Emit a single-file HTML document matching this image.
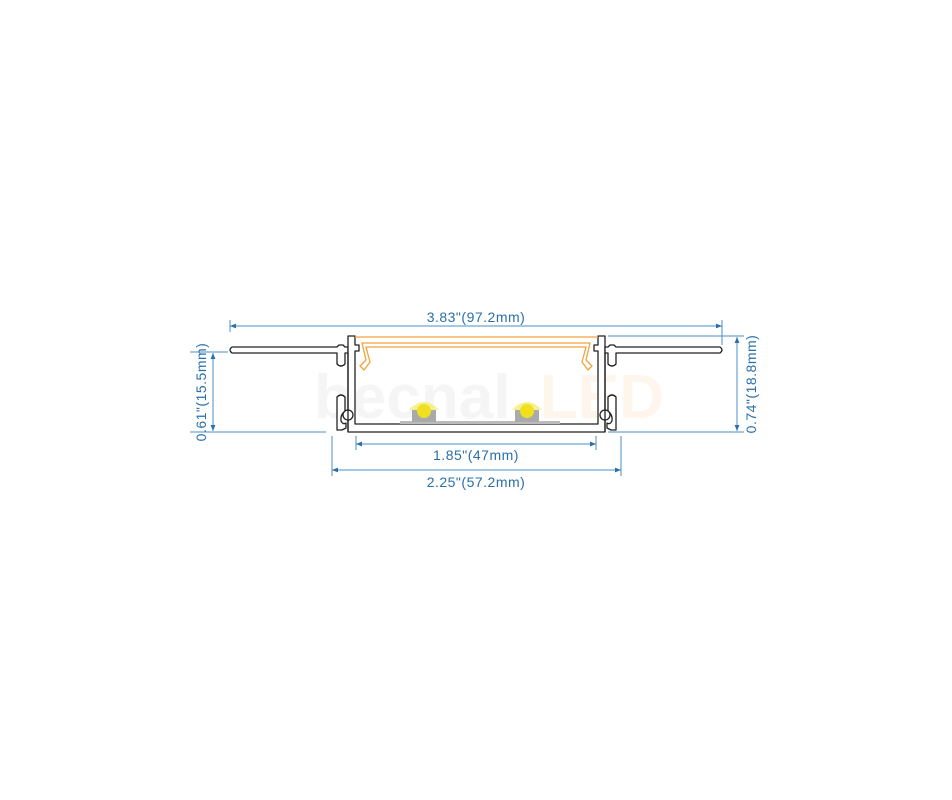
<!DOCTYPE html>
<html><head><meta charset="utf-8"><style>
html,body{margin:0;padding:0;background:#fff;width:952px;height:800px;overflow:hidden}
svg{display:block}
text{font-family:"Liberation Sans",sans-serif;font-size:14px;fill:#2a6fa8;letter-spacing:0.5px}
</style></head><body>
<svg width="952" height="800" viewBox="0 0 952 800">
<defs>
<marker id="a" viewBox="0 0 10 10" refX="10" refY="5" markerWidth="6" markerHeight="6" orient="auto-start-reverse"><path d="M0,1L10,5L0,9z" fill="#2a6fa8"/></marker>
</defs>
<text x="314" y="418" style="font-size:62px;font-weight:bold;fill:#f5f5f5;letter-spacing:0">becnal</text>
<text x="540" y="418" style="font-size:62px;font-weight:bold;fill:#fef6ec;letter-spacing:0">LED</text>
<g stroke="#4a90c8" stroke-width="1" fill="none">
<line x1="230" y1="320" x2="230" y2="332"/><line x1="722" y1="320" x2="722" y2="345"/>
<line x1="230" y1="326" x2="722" y2="326" marker-start="url(#a)" marker-end="url(#a)"/>
<line x1="190" y1="352" x2="228" y2="352"/><line x1="190" y1="432" x2="326" y2="432"/>
<line x1="213" y1="353" x2="213" y2="431" marker-start="url(#a)" marker-end="url(#a)"/>
<line x1="608" y1="336" x2="744" y2="336"/><line x1="608" y1="432" x2="744" y2="432"/>
<line x1="737" y1="337" x2="737" y2="431" marker-start="url(#a)" marker-end="url(#a)"/>
<line x1="356" y1="436" x2="356" y2="450"/><line x1="596" y1="436" x2="596" y2="450"/>
<line x1="356" y1="444" x2="596" y2="444" marker-start="url(#a)" marker-end="url(#a)"/>
<line x1="332" y1="436" x2="332" y2="476"/><line x1="621" y1="436" x2="621" y2="476"/>
<line x1="332" y1="470" x2="621" y2="470" marker-start="url(#a)" marker-end="url(#a)"/>
</g>
<text x="476" y="322" text-anchor="middle">3.83"(97.2mm)</text>
<text x="476" y="460" text-anchor="middle">1.85"(47mm)</text>
<text x="476" y="487" text-anchor="middle">2.25"(57.2mm)</text>
<text transform="translate(206,392) rotate(-90)" text-anchor="middle">0.61"(15.5mm)</text>
<text transform="translate(756,384) rotate(-90)" text-anchor="middle">0.74"(18.8mm)</text>
<g stroke="#222" stroke-width="1.3" fill="#fff" stroke-linejoin="round">
<!-- left -->
<path d="M232,347 L337,347 L339,345 L343,345 L345,347 L348,347 L348,353 L345,353 L345,364 Q341,368 337,364 L337,353 L232,353 Q228,350 232,347 Z"/>
<path d="M348,336 L355,336 L355,345 L359,345 L359,351 L355,351 L355,424 L598,424 L598,351 L594,351 L594,345 L598,345 L598,336 L605,336 L605,432 L348,432 Z"/>
<path d="M337,397 Q341,393 345,397 L345,411 Q340,415 341,421 Q343,425 346,423 L346,428 L342,430 L337,430 Z"/>
<circle cx="348" cy="415" r="5"/>
<!-- right -->
<path d="M720,347 L616,347 L614,345 L610,345 L608,347 L605,347 L605,353 L608,353 L608,364 Q612,368 616,364 L616,353 L720,353 Q724,350 720,347 Z"/>
<path d="M616,397 Q612,393 608,397 L608,411 Q613,415 612,421 Q610,425 607,423 L607,428 L611,430 L616,430 Z"/>
<circle cx="605" cy="415" r="5"/>
<line x1="348" y1="353" x2="348" y2="432" fill="none"/>
<line x1="605" y1="353" x2="605" y2="432" fill="none"/>
</g>
<g stroke="#f2a23a" stroke-width="1.3" fill="none" stroke-linejoin="round">
<path d="M355,337 L598,337"/>
<path d="M362,343 L590,343 L586,360 L592,366 L588,370 L582,362 L586,347 L366,347 L370,362 L364,370 L360,366 L366,360 Z"/>
</g>
<rect x="400" y="421" width="160" height="3" fill="#bbb"/>
<rect x="412" y="410" width="24" height="12" fill="#aaa"/>
<rect x="515" y="410" width="24" height="12" fill="#aaa"/>
<path d="M409,410 Q424,394 439,410 Z" fill="#f7f090"/>
<circle cx="424" cy="411" r="7" fill="#f0e020"/>
<path d="M512,410 Q527,394 542,410 Z" fill="#f7f090"/>
<circle cx="527" cy="411" r="7" fill="#f0e020"/>
</svg>
</body></html>
